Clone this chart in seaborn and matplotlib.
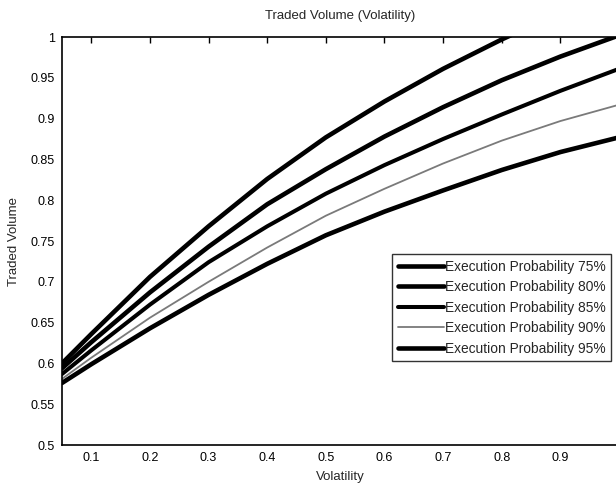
import matplotlib
matplotlib.use("Agg")
import matplotlib.pyplot as plt
import seaborn as sns
import pandas as pd

# volatility grid and traded volume per execution probability
volatility = [0.05, 0.1, 0.2, 0.3, 0.4, 0.5, 0.6, 0.7, 0.8, 0.9, 1.0]
vol_75 = [0.600, 0.636, 0.706, 0.768, 0.826, 0.877, 0.921, 0.961, 0.997, 1.030, 1.060]
vol_80 = [0.594, 0.626, 0.687, 0.743, 0.795, 0.838, 0.878, 0.914, 0.947, 0.976, 1.002]
vol_85 = [0.587, 0.616, 0.672, 0.724, 0.768, 0.808, 0.843, 0.875, 0.905, 0.934, 0.961]
vol_90 = [0.581, 0.607, 0.656, 0.700, 0.742, 0.781, 0.814, 0.845, 0.873, 0.897, 0.917]
vol_95 = [0.576, 0.599, 0.643, 0.684, 0.722, 0.757, 0.786, 0.812, 0.837, 0.859, 0.877]

labels = ["Execution Probability 75%", "Execution Probability 80%",
          "Execution Probability 85%", "Execution Probability 90%",
          "Execution Probability 95%"]
series = [vol_75, vol_80, vol_85, vol_90, vol_95]

x_ticks = [0.1, 0.2, 0.3, 0.4, 0.5, 0.6, 0.7, 0.8, 0.9]
y_ticks = [0.5, 0.55, 0.6, 0.65, 0.7, 0.75, 0.8, 0.85, 0.9, 0.95, 1.0]

sns.set_style("white")
plt.rcParams['font.family'] = ['Liberation Sans', 'DejaVu Sans']

df = pd.concat([pd.DataFrame({'Volatility': volatility, 'Traded Volume': s, 'prob': lab})
                for s, lab in zip(series, labels)], ignore_index=True)

fig = plt.figure(figsize=(6.16, 4.83), dpi=100)
# right edge of the axes sits just past the picture, as in the scan
ax = fig.add_axes([62 / 616, 1 - 445 / 483, 557 / 616, 408 / 483])

styles = {
    labels[0]: dict(color='black', lw=3.3),
    labels[1]: dict(color='black', lw=3.3),
    labels[2]: dict(color='black', lw=2.9),
    labels[3]: dict(color='#7a7a7a', lw=1.3),
    labels[4]: dict(color='black', lw=3.3),
}

for lab in labels:
    sns.lineplot(data=df[df['prob'] == lab], x='Volatility', y='Traded Volume',
                 ax=ax, label=lab, **styles[lab])

ax.set_xlim(0.05, 1.0)
ax.set_ylim(0.5, 1.0)
ax.set_xticks(x_ticks)
ax.set_xticklabels(['%g' % t for t in x_ticks])
ax.set_yticks(y_ticks)
ax.set_yticklabels(['%g' % t for t in y_ticks])
ax.tick_params(direction='in', length=4, width=1, top=True, right=False,
               labelsize=9, colors='black', pad=5)
for sp in ax.spines.values():
    sp.set_color('black')
    sp.set_linewidth(1.2)

ax.set_title("Traded Volume (Volatility)", fontsize=9.5, pad=13)
ax.set_xlabel("Volatility", fontsize=9.5, labelpad=5)
ax.set_ylabel("Traded Volume", fontsize=9.5, labelpad=8)

leg = ax.legend(loc='upper left', bbox_to_anchor=(392 / 616, 1 - 254 / 483),
                bbox_transform=fig.transFigure, fontsize=9.9, frameon=True,
                fancybox=False, handlelength=3.4, handletextpad=0.05,
                labelspacing=0.48, borderpad=0.4, borderaxespad=0)
leg.get_frame().set_edgecolor('black')
leg.get_frame().set_linewidth(1.0)

fig.savefig("out.png", dpi=100)
